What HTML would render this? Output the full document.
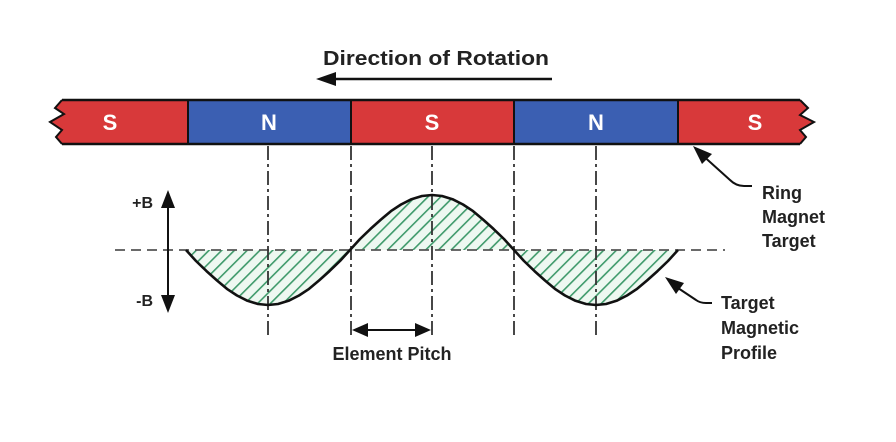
<!DOCTYPE html>
<html><head><style>
html,body{margin:0;padding:0;background:#fff;}
svg{display:block;}
text{font-family:"Liberation Sans",Arial,sans-serif;font-weight:bold;}
</style></head><body>
<svg width="896" height="442" viewBox="0 0 896 442" xmlns="http://www.w3.org/2000/svg">
<defs>
<pattern id="h" width="9" height="9" patternUnits="userSpaceOnUse" patternTransform="rotate(45)">
<rect width="9" height="9" fill="#eef8f1"/>
<rect x="0" y="0" width="1.6" height="9" fill="#3f9a6b"/>
</pattern>
</defs>
<text x="436" y="65" font-size="20" text-anchor="middle" fill="#222" textLength="226" lengthAdjust="spacingAndGlyphs">Direction of Rotation</text>
<line x1="330" y1="79" x2="552" y2="79" stroke="#111" stroke-width="2.5"/>
<polygon points="316,79 336,72 336,86" fill="#111"/>
<polygon points="62,100 188,100 188,144 62,144 56,137 62,130 50,122 64,114 55,108" fill="#d8393a"/>
<rect x="188" y="100" width="163" height="44" fill="#3b5fb2"/>
<rect x="351" y="100" width="163" height="44" fill="#d8393a"/>
<rect x="514" y="100" width="164" height="44" fill="#3b5fb2"/>
<polygon points="678,100 800,100 808,108 800,115 814,122 800,130 806,137 800,144 678,144" fill="#d8393a"/>
<polyline points="62,100 800,100" stroke="#111" stroke-width="2.5" fill="none"/>
<polyline points="62,144 800,144" stroke="#111" stroke-width="2.5" fill="none"/>
<polyline points="62,100 55,108 64,114 50,122 62,130 56,137 62,144" stroke="#111" stroke-width="2" fill="none"/>
<polyline points="800,100 808,108 800,115 814,122 800,130 806,137 800,144" stroke="#111" stroke-width="2" fill="none"/>
<g stroke="#111" stroke-width="2"><line x1="188" y1="100" x2="188" y2="144"/><line x1="351" y1="100" x2="351" y2="144"/><line x1="514" y1="100" x2="514" y2="144"/><line x1="678" y1="100" x2="678" y2="144"/></g>
<g font-size="22" fill="#fff" text-anchor="middle"><text x="110" y="130">S</text><text x="269" y="130">N</text><text x="432" y="130">S</text><text x="596" y="130">N</text><text x="755" y="130">S</text></g>
<polygon fill="url(#h)" points="186,250 206.5,271.1 227,288.9 247.5,300.8 268,305 288.5,300.8 309,288.9 329.5,271.1 350,250 370.5,228.9 391,211.1 411.5,199.2 432,195 452.5,199.2 473,211.1 493.5,228.9 514,250 534.5,271.1 555,288.9 575.5,300.8 596,305 616.5,300.8 637,288.9 657.5,271.1 678,250"/>
<line x1="115" y1="250" x2="725" y2="250" stroke="#555" stroke-width="1.8" stroke-dasharray="10,6"/>
<g stroke="#333" stroke-width="1.8" stroke-dasharray="14,4,3,4">
<line x1="268" y1="146" x2="268" y2="335"/><line x1="351" y1="146" x2="351" y2="335"/><line x1="432" y1="146" x2="432" y2="335"/><line x1="514" y1="146" x2="514" y2="335"/><line x1="596" y1="146" x2="596" y2="335"/>
</g>
<polyline fill="none" stroke="#111" stroke-width="2.6" stroke-linejoin="round" points="186,250 196,261 206.5,271.1 217,280.5 227,288.9 237,295.5 247.5,300.8 258,304 268,305 278,304 288.5,300.8 299,295.5 309,288.9 319,280.5 329.5,271.1 340,261 350,250 360,239 370.5,228.9 381,219.5 391,211.1 401,204.5 411.5,199.2 422,196 432,195 442,196 452.5,199.2 463,204.5 473,211.1 483,219.5 493.5,228.9 504,239 514,250 524,261 534.5,271.1 545,280.5 555,288.9 565,295.5 575.5,300.8 586,304 596,305 606,304 616.5,300.8 627,295.5 637,288.9 647,280.5 657.5,271.1 668,261 678,250"/>
<line x1="168" y1="205" x2="168" y2="300" stroke="#111" stroke-width="2"/>
<polygon points="168,190 161,208 175,208" fill="#111"/>
<polygon points="168,313 161,295 175,295" fill="#111"/>
<text x="153" y="208" font-size="16" text-anchor="end" fill="#222">+B</text>
<text x="153" y="306" font-size="16" text-anchor="end" fill="#222">-B</text>
<line x1="360" y1="330" x2="424" y2="330" stroke="#111" stroke-width="2"/>
<polygon points="352,330 368,323 368,337" fill="#111"/>
<polygon points="431,330 415,323 415,337" fill="#111"/>
<text x="392" y="360" font-size="18" text-anchor="middle" fill="#222">Element Pitch</text>
<path d="M700,153 L730,180 Q736,186 744,186 L752,186" fill="none" stroke="#111" stroke-width="2"/>
<polygon points="693,146 712,154 702,164" fill="#111"/>
<g font-size="18" fill="#222"><text x="762" y="199">Ring</text><text x="762" y="223">Magnet</text><text x="762" y="247">Target</text></g>
<path d="M672,284 L696,300 Q700,303 706,303 L712,303" fill="none" stroke="#111" stroke-width="2"/>
<polygon points="665,277 684,283 676,294" fill="#111"/>
<g font-size="18" fill="#222"><text x="721" y="309">Target</text><text x="721" y="334">Magnetic</text><text x="721" y="359">Profile</text></g>
</svg>
</body></html>
